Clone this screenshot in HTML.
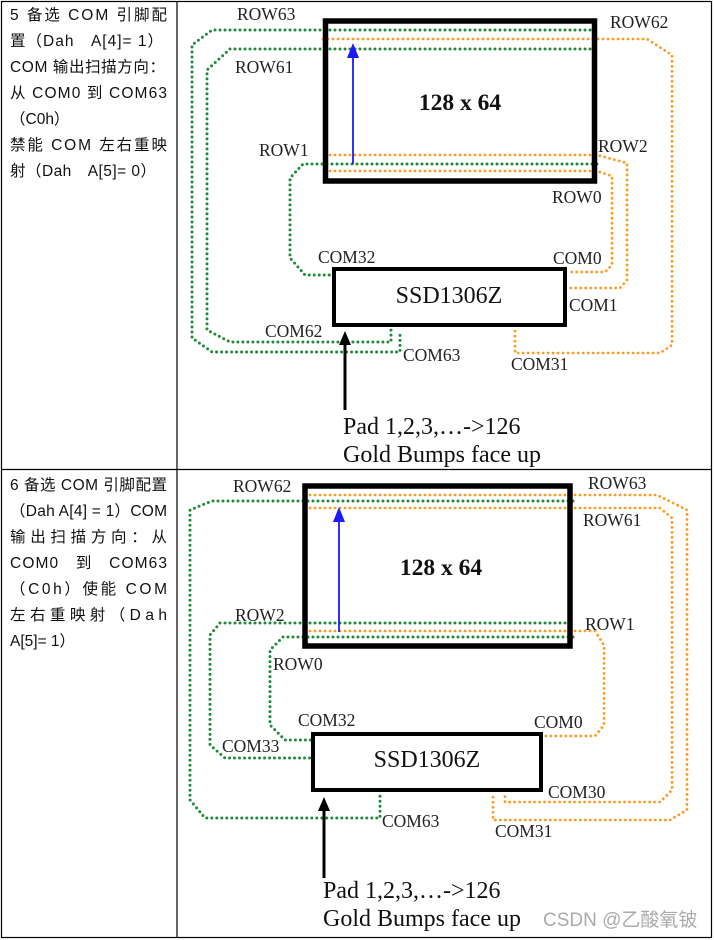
<!DOCTYPE html>
<html><head><meta charset="utf-8"><style>
html,body{margin:0;padding:0;background:#fff}
svg{display:block}
.l{font-family:"Liberation Sans","Noto Sans CJK SC",sans-serif;font-size:15.5px;fill:#111}
.s{font-family:"Liberation Serif",serif;font-size:17.5px;fill:#222}
.b{font-family:"Liberation Serif",serif;font-size:23.5px;font-weight:bold;fill:#111}
.t{font-family:"Liberation Serif",serif;font-size:24px;fill:#111}
.g{fill:none;stroke:#1f8a3a;stroke-width:3;stroke-dasharray:0 5;stroke-linecap:round;stroke-linejoin:round}
.o{fill:none;stroke:#ff9a20;stroke-width:2.8;stroke-dasharray:0 5;stroke-linecap:round;stroke-linejoin:round}
</style></head><body>
<svg width="714" height="940" viewBox="0 0 714 940" xmlns="http://www.w3.org/2000/svg">
<g stroke="#000" stroke-width="1.2" fill="none">
<rect x="1.5" y="1.5" width="710" height="936"/>
<line x1="177" y1="1" x2="177" y2="938"/>
<line x1="1" y1="469.5" x2="712" y2="469.5"/>
</g>
<g class="l">
<text x="10" y="20" textLength="157" lengthAdjust="spacing">5 备选 COM 引脚配</text>
<text x="10" y="46" textLength="153" lengthAdjust="spacing">置（Dah　A[4]= 1）</text>
<text x="10" y="72" textLength="155" lengthAdjust="spacing">COM 输出扫描方向：</text>
<text x="10" y="98" textLength="157" lengthAdjust="spacing">从 COM0 到 COM63</text>
<text x="10" y="124">（C0h）</text>
<text x="10" y="150" textLength="157" lengthAdjust="spacing">禁能 COM 左右重映</text>
<text x="10" y="176" textLength="146" lengthAdjust="spacing">射（Dah　A[5]= 0）</text>
<text x="10" y="490" textLength="157" lengthAdjust="spacing">6 备选 COM 引脚配置</text>
<text x="10" y="516" textLength="157" lengthAdjust="spacing">（Dah A[4] = 1）COM</text>
<text x="10" y="542" textLength="157" lengthAdjust="spacing">输出扫描方向：从</text>
<text x="10" y="568" textLength="157" lengthAdjust="spacing">COM0　到　COM63</text>
<text x="10" y="594" textLength="157" lengthAdjust="spacing">（C0h）使能 COM</text>
<text x="10" y="620" textLength="157" lengthAdjust="spacing">左右重映射（Dah</text>
<text x="10" y="646">A[5]= 1）</text>
</g>

<!-- PANEL 1 -->
<path class="g" d="M590,30 H212 L192,45 V338 L212,352 H400 V331"/>
<path class="g" d="M590,49 H230 L207,70 V330 L230,342 H391 V328"/>
<path class="o" d="M323,39 H647 L672,55 V345 L660,353 H515 V328"/>
<path class="g" d="M597,164 H303 L290,178 V258 L305,275 H333"/>
<path class="o" d="M330,155 H597 L627,163 V280 L620,288 H568"/>
<path class="o" d="M330,171 H597 L612,176 V265 L605,272 H567"/>
<rect x="325.5" y="21" width="269" height="160" fill="none" stroke="#000" stroke-width="5.5"/>
<rect x="334" y="269" width="231" height="56" fill="none" stroke="#000" stroke-width="4"/>
<line x1="353" y1="164" x2="353" y2="50" stroke="#1a1aff" stroke-width="1.8"/>
<path d="M347,58 L353,43 L359,58Z" fill="#1a1aff"/>
<line x1="345" y1="410" x2="345" y2="340" stroke="#000" stroke-width="3"/>
<path d="M339,345 L345,331 L351,345Z" fill="#000"/>
<g class="s">
<text x="237" y="20">ROW63</text><text x="610" y="28">ROW62</text>
<text x="235" y="73">ROW61</text><text x="259" y="156">ROW1</text>
<text x="598" y="152">ROW2</text><text x="552" y="203">ROW0</text>
<text x="318" y="263">COM32</text><text x="553" y="264">COM0</text>
<text x="569" y="311">COM1</text><text x="265" y="337">COM62</text>
<text x="403" y="361">COM63</text><text x="511" y="370">COM31</text>
</g>
<text class="b" x="460" y="110" text-anchor="middle">128 x 64</text>
<text class="t" x="449" y="303" text-anchor="middle">SSD1306Z</text>
<text class="t" x="343" y="434">Pad 1,2,3,…-&gt;126</text>
<text class="t" x="343" y="462">Gold Bumps face up</text>

<!-- PANEL 2 -->
<path class="o" d="M305,495 H657 L687,510 V810 L670,820 H493 V794"/>
<path class="g" d="M573,501 H212 L190,510 V800 L205,818 H380 V796"/>
<path class="o" d="M305,508 H660 L672,518 V790 L660,802 H505 V794"/>
<path class="g" d="M565,623 H220 L210,635 V745 L225,758 H312"/>
<path class="o" d="M305,631 H595 L604,645 V725 L595,736 H543"/>
<path class="g" d="M573,637 H283 L270,650 V725 L285,740 H312"/>
<rect x="305" y="486" width="265" height="160" fill="none" stroke="#000" stroke-width="5.5"/>
<rect x="313" y="734" width="228" height="56" fill="none" stroke="#000" stroke-width="4"/>
<line x1="339" y1="632" x2="339" y2="515" stroke="#1a1aff" stroke-width="1.8"/>
<path d="M333,522 L339,507 L345,522Z" fill="#1a1aff"/>
<line x1="324" y1="878" x2="324" y2="806" stroke="#000" stroke-width="3"/>
<path d="M318,811 L324,797 L330,811Z" fill="#000"/>
<g class="s">
<text x="233" y="492">ROW62</text><text x="588" y="489">ROW63</text>
<text x="583" y="526">ROW61</text><text x="235" y="621">ROW2</text>
<text x="585" y="630">ROW1</text><text x="273" y="670">ROW0</text>
<text x="298" y="726">COM32</text><text x="534" y="728">COM0</text>
<text x="222" y="752">COM33</text><text x="548" y="798">COM30</text>
<text x="382" y="827">COM63</text><text x="495" y="837">COM31</text>
</g>
<text class="b" x="441" y="575" text-anchor="middle">128 x 64</text>
<text class="t" x="427" y="767" text-anchor="middle">SSD1306Z</text>
<text class="t" x="323" y="898">Pad 1,2,3,…-&gt;126</text>
<text class="t" x="323" y="926">Gold Bumps face up</text>
<text x="543" y="926" style="font-family:'Liberation Sans','Noto Sans CJK SC',sans-serif;font-size:19px;fill:#aaa">CSDN @乙酸氧铍</text>
</svg>
</body></html>
